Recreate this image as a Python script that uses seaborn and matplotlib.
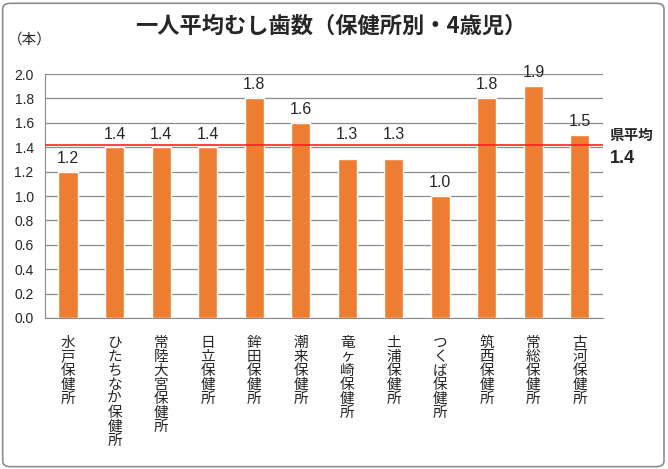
import pandas as pd
import matplotlib.pyplot as plt
import seaborn as sns
from matplotlib.patches import FancyBboxPatch

# data
centers = ['水戸保健所', 'ひたちなか保健所', '常陸大宮保健所', '日立保健所', '鉾田保健所',
           '潮来保健所', '竜ヶ崎保健所', '土浦保健所', 'つくば保健所', '筑西保健所',
           '常総保健所', '古河保健所']
values = [1.2, 1.4, 1.4, 1.4, 1.8, 1.6, 1.3, 1.3, 1.0, 1.8, 1.9, 1.5]
pref_avg = 1.42
yticks = [0.0, 0.2, 0.4, 0.6, 0.8, 1.0, 1.2, 1.4, 1.6, 1.8, 2.0]

df = pd.DataFrame({'center': centers, 'value': values})

sns.set_style('white')
plt.rcParams['font.family'] = ['Noto Sans CJK JP', 'DejaVu Sans']

fig = plt.figure(figsize=(6.68, 4.69), dpi=100)
ax = fig.add_axes([0.067, 0.322, 0.836, 0.52])

sns.barplot(data=df, x='center', y='value', color='#ED7D31', saturation=1,
            width=0.41, ax=ax, zorder=3)

ax.set_ylim(0, 2.0)
ax.set_xlim(-0.5, len(centers) - 0.5)
ax.set_yticks(yticks)
ax.set_yticklabels([f'{t:.1f}' for t in yticks], fontsize=10, family='Liberation Sans')
ax.yaxis.grid(True, color='#8c8c8c', lw=0.9, zorder=0)
ax.tick_params(axis='y', length=0, pad=8)
ax.tick_params(axis='x', length=0, pad=13)
ax.set_xticks(range(len(centers)))
ax.set_xticklabels(['\n'.join(c) for c in centers], fontsize=10.5,
                   va='top', linespacing=1.0)
ax.set_xlabel('')
ax.set_ylabel('')
for s in ['top', 'right']:
    ax.spines[s].set_visible(False)
for s in ['left', 'bottom']:
    ax.spines[s].set_color('#8c8c8c')

# value labels; lift the ones that would sit on the average line
for i, v in enumerate(values):
    y = v + 0.05
    if v < pref_avg < y + 0.1:
        y = pref_avg + 0.02
    ax.text(i, y, f'{v:.1f}', ha='center', va='bottom', fontsize=11.5,
            family='Liberation Sans', zorder=4)

ax.axhline(pref_avg, color='#ff2020', lw=1.2, zorder=4)
ax.text(1.012, 1.50, '県平均', transform=ax.get_yaxis_transform(), fontsize=10.5,
        fontweight='bold', va='center', ha='left')
ax.text(1.012, 1.31, f'{pref_avg:.1f}', transform=ax.get_yaxis_transform(),
        fontsize=13, fontweight='bold', va='center', ha='left', family='Liberation Sans')

fig.text(0.495, 0.945, '一人平均むし歯数（保健所別・4歳児）', ha='center', va='center',
         fontsize=16, fontweight='bold')
fig.text(0.012, 0.915, '（本）', ha='left', va='center', fontsize=10.5)

border = FancyBboxPatch((0.004, 0.005), 0.99, 0.988, boxstyle='round,pad=0,rounding_size=0.012',
                        transform=fig.transFigure, fill=False, ec='#8c8c8c', lw=1.2)
fig.patches.append(border)

fig.savefig('out.png', dpi=100)
